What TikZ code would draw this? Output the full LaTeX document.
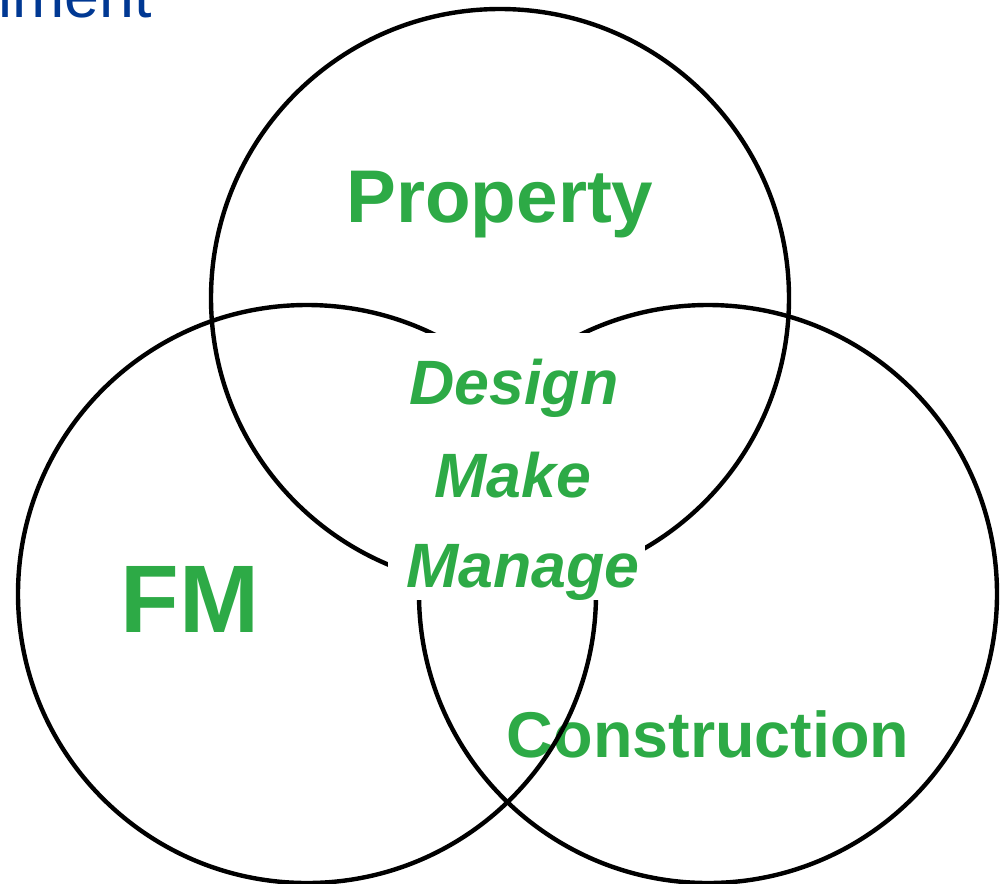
\documentclass[tikz,border=0pt]{standalone}
\usepackage{fontspec}
\setmainfont{Liberation Sans}
\definecolor{vgreen}{RGB}{45,170,70}
\definecolor{vblue}{RGB}{0,56,147}
\begin{document}
\begin{tikzpicture}[x=0.75pt,y=-0.75pt,
  ring/.style={draw=black,line width=3.3pt},
  lbl/.style={text=vgreen,font=\bfseries,inner sep=0pt,anchor=base},
  mid/.style={text=vgreen,font=\bfseries\itshape\fontsize{47}{50}\selectfont,inner sep=0pt,anchor=base}]
\useasboundingbox (0,0) rectangle (1003,883);
\node[text=vblue,font=\fontsize{47}{50}\selectfont,inner sep=0pt,anchor=base east] (title) at (152,17) {nment};
\node[lbl,font=\bfseries\fontsize{48.5}{52}\selectfont] (con) at (708,757) {Construction};
\node[lbl,font=\bfseries\fontsize{72}{76}\selectfont] (fm) at (190,632) {FM};
\node[lbl,font=\bfseries\fontsize{56}{60}\selectfont] (prop) at (500,222) {Property};
\draw[ring] (500,298) circle[radius=289];
\draw[ring] (307,594) circle[radius=289];
\draw[ring] (708,594) circle[radius=289];
\fill[white] (388,333) rectangle (645,600);
\node[mid] (design) at (514,404) {Design};
\node[mid] (make) at (513,497) {Make};
\node[mid] (manage) at (523,587) {Manage};
\end{tikzpicture}
\end{document}
